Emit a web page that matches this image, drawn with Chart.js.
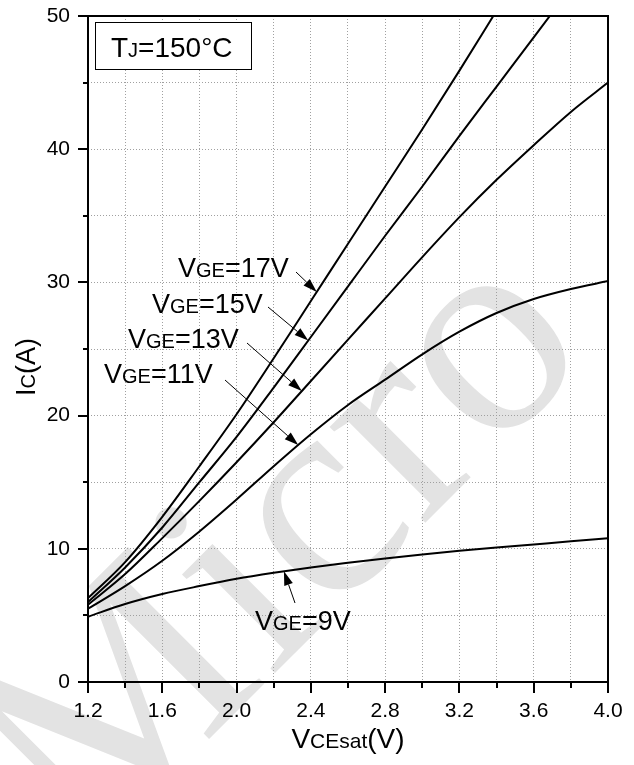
<!DOCTYPE html>
<html>
<head>
<meta charset="utf-8">
<script src="https://cdn.jsdelivr.net/npm/chart.js@4.4.1/dist/chart.umd.min.js"></script>
<style>
  html, body { margin: 0; padding: 0; background: #fff; }
  canvas { display: block; }
</style>
</head>
<body>
<canvas id="c" width="634" height="765"></canvas>
<script>
// Collector-emitter voltage (V) sample points
const vce = [1.2, 1.4, 1.6, 1.8, 2.0, 2.2, 2.4, 2.6, 2.8, 3.0, 3.2, 3.4, 3.6, 3.8, 4.0];

// Collector current (A) for each gate voltage
const ic9  = [4.9, 5.85, 6.6, 7.2, 7.75, 8.2, 8.6, 8.95, 9.28, 9.58, 9.85, 10.1, 10.33, 10.56, 10.8];
const ic11 = [5.5, 7.2, 9.1, 11.3, 13.7, 16.2, 18.6, 20.8, 22.7, 24.6, 26.3, 27.7, 28.75, 29.5, 30.1];
const ic13 = [5.8, 8.1, 10.8, 13.6, 16.5, 19.5, 22.6, 25.7, 28.8, 31.9, 34.9, 37.7, 40.3, 42.8, 45.0];
const ic15 = [6.0, 8.6, 11.6, 15.0, 18.4, 22.1, 25.9, 29.7, 33.5, 37.2, 41.0, 44.7, 48.4, 52.1];
const ic17 = [6.3, 9.0, 12.4, 16.2, 20.1, 24.3, 28.6, 32.9, 37.2, 41.5, 45.9, 50.4];

// Axis ranges
const xRange = [1.2, 4.0];
const yRange = [0, 50];

const FONT = '"Liberation Sans", Arial, sans-serif';

function toPoints(ys) {
  return ys.map((y, i) => ({ x: vce[i], y: y }));
}

// linear lookup of a series at a given voltage
function valueAt(ys, x) {
  for (let i = 0; i < ys.length - 1; i++) {
    if (x >= vce[i] && x <= vce[i + 1]) {
      const t = (x - vce[i]) / (vce[i + 1] - vce[i]);
      return ys[i] + t * (ys[i + 1] - ys[i]);
    }
  }
  return ys[ys.length - 1];
}

// draws text made of runs with different sizes (main letter + subscript-like letters)
function drawRuns(ctx, runs, x, y) {
  let cx = x;
  for (const [t, s] of runs) {
    ctx.font = s + 'px ' + FONT;
    ctx.fillText(t, cx, y);
    cx += ctx.measureText(t).width;
  }
  return cx;
}
function runsWidth(ctx, runs) {
  let w = 0;
  for (const [t, s] of runs) { ctx.font = s + 'px ' + FONT; w += ctx.measureText(t).width; }
  return w;
}

function arrow(ctx, x0, y0, x1, y1) {
  const ang = Math.atan2(y1 - y0, x1 - x0);
  const L = 14, W = 4.5;
  const bx = x1 - L * Math.cos(ang), by = y1 - L * Math.sin(ang);
  ctx.beginPath();
  ctx.moveTo(x0, y0);
  ctx.lineTo(bx, by);
  ctx.lineWidth = 1;
  ctx.strokeStyle = '#000';
  ctx.stroke();
  ctx.beginPath();
  ctx.moveTo(x1, y1);
  ctx.lineTo(bx + W * Math.sin(ang), by - W * Math.cos(ang));
  ctx.lineTo(bx - W * Math.sin(ang), by + W * Math.cos(ang));
  ctx.closePath();
  ctx.fillStyle = '#000';
  ctx.fill();
}

// curve labels: text runs, label baseline-left (px), arrow tail (px), arrow tip voltage
const curveLabels = [
  { runs: [['V', 27], ['GE', 20], ['=17V', 27]], lx: 178, ly: 277, tx: 296, ty: 272, series: ic17, at: 2.432 },
  { runs: [['V', 27], ['GE', 20], ['=15V', 27]], lx: 152, ly: 313, tx: 268, ty: 307, series: ic15, at: 2.386 },
  { runs: [['V', 27], ['GE', 20], ['=13V', 27]], lx: 128, ly: 348, tx: 247, ty: 343, series: ic13, at: 2.351 },
  { runs: [['V', 27], ['GE', 20], ['=11V', 27]], lx: 104, ly: 383, tx: 225, ty: 380, series: ic11, at: 2.332 },
  { runs: [['V', 27], ['GE', 20], ['=9V', 27]],  lx: 255, ly: 630, tx: 295, ty: 603, series: ic9,  at: 2.255 }
];

const decorPlugin = {
  id: 'decor',
  beforeDraw(chart) {
    const ctx = chart.ctx;
    ctx.save();
    ctx.fillStyle = '#fff';
    ctx.fillRect(0, 0, chart.width, chart.height);
    // light diagonal watermark
    ctx.translate(340, 608);
    ctx.rotate(-45 * Math.PI / 180);
    ctx.font = '295px "Liberation Serif", "DejaVu Serif", serif';
    ctx.fillStyle = '#e3e3e3';
    ctx.textAlign = 'center';
    ctx.textBaseline = 'alphabetic';
    ctx.fillText('Micro', 0, 0);
    ctx.restore();
  },
  afterDatasetsDraw(chart) {
    const ctx = chart.ctx;
    const a = chart.chartArea;
    const xs = chart.scales.x, ys = chart.scales.y;
    ctx.save();

    // frame
    ctx.strokeStyle = '#000';
    ctx.lineWidth = 2;
    ctx.strokeRect(a.left, a.top, a.right - a.left, a.bottom - a.top);

    // tick marks (outward, long at labelled values)
    ctx.lineWidth = 2;
    ctx.beginPath();
    for (const t of xs.ticks) {
      const px = Math.round(xs.getPixelForValue(t.value));
      const major = Math.round(t.value * 10) % 4 === 0;
      ctx.moveTo(px, a.bottom);
      ctx.lineTo(px, a.bottom + (major ? 11 : 6));
    }
    for (const t of ys.ticks) {
      const py = Math.round(ys.getPixelForValue(t.value));
      const major = Math.round(t.value) % 10 === 0;
      ctx.moveTo(a.left, py);
      ctx.lineTo(a.left - (major ? 10 : 5), py);
    }
    ctx.stroke();

    // temperature box
    ctx.fillStyle = '#fff';
    ctx.fillRect(95, 22, 157, 48);
    ctx.lineWidth = 1;
    ctx.strokeStyle = '#000';
    ctx.strokeRect(95.5, 22.5, 156, 47);
    ctx.fillStyle = '#000';
    ctx.textBaseline = 'alphabetic';
    drawRuns(ctx, [['T', 28], ['J', 20], ['=150°C', 28]], 111, 57);

    // curve labels with arrows
    for (const c of curveLabels) {
      ctx.fillStyle = '#000';
      drawRuns(ctx, c.runs, c.lx, c.ly);
      const tipX = xs.getPixelForValue(c.at);
      const tipY = ys.getPixelForValue(valueAt(c.series, c.at));
      arrow(ctx, c.tx, c.ty, tipX, tipY);
    }

    // axis titles
    ctx.fillStyle = '#000';
    const xt = [['V', 28], ['CEsat', 21], ['(V)', 28]];
    const xw = runsWidth(ctx, xt);
    drawRuns(ctx, xt, (a.left + a.right) / 2 - xw / 2, 748);

    const yt = [['I', 27], ['C', 20], ['(A)', 27]];
    const yw = runsWidth(ctx, yt);
    ctx.translate(35, 367);
    ctx.rotate(-Math.PI / 2);
    drawRuns(ctx, yt, -yw / 2, 0);

    ctx.restore();
  }
};

const lineStyle = {
  borderColor: '#000',
  borderWidth: 2,
  pointRadius: 0,
  showLine: true,
  fill: false,
  cubicInterpolationMode: 'monotone'
};

new Chart(document.getElementById('c'), {
  type: 'scatter',
  data: {
    datasets: [
      Object.assign({ label: 'VGE=17V', data: toPoints(ic17) }, lineStyle),
      Object.assign({ label: 'VGE=15V', data: toPoints(ic15) }, lineStyle),
      Object.assign({ label: 'VGE=13V', data: toPoints(ic13) }, lineStyle),
      Object.assign({ label: 'VGE=11V', data: toPoints(ic11) }, lineStyle),
      Object.assign({ label: 'VGE=9V',  data: toPoints(ic9) },  lineStyle)
    ]
  },
  options: {
    responsive: false,
    animation: false,
    devicePixelRatio: 1,
    layout: { autoPadding: false, padding: { left: 0, right: 26, top: 16, bottom: 0 } },
    plugins: { legend: { display: false }, tooltip: { enabled: false } },
    scales: {
      x: {
        type: 'linear',
        min: xRange[0],
        max: xRange[1],
        afterFit(s) { s.height = 83; s.paddingLeft = 0; s.paddingRight = 0; },
        grid: { color: '#a0a0a0', lineWidth: 1, drawTicks: false },
        border: { display: false, dash: [1, 2] },
        ticks: {
          stepSize: 0.2,
          autoSkip: false,
          maxRotation: 0,
          padding: 17,
          color: '#000',
          font: { family: FONT, size: 21 },
          callback: v => (Math.round(v * 10) % 4 === 0 ? v.toFixed(1) : '')
        }
      },
      y: {
        type: 'linear',
        min: yRange[0],
        max: yRange[1],
        afterFit(s) { s.width = 88; s.paddingTop = 0; s.paddingBottom = 0; },
        grid: { color: '#a0a0a0', lineWidth: 1, drawTicks: false },
        border: { display: false, dash: [1, 2] },
        ticks: {
          stepSize: 5,
          autoSkip: false,
          padding: 18,
          color: '#000',
          font: { family: FONT, size: 21 },
          callback: v => (Math.round(v) % 10 === 0 ? String(v) : '')
        }
      }
    }
  },
  plugins: [decorPlugin]
});
</script>
</body>
</html>
